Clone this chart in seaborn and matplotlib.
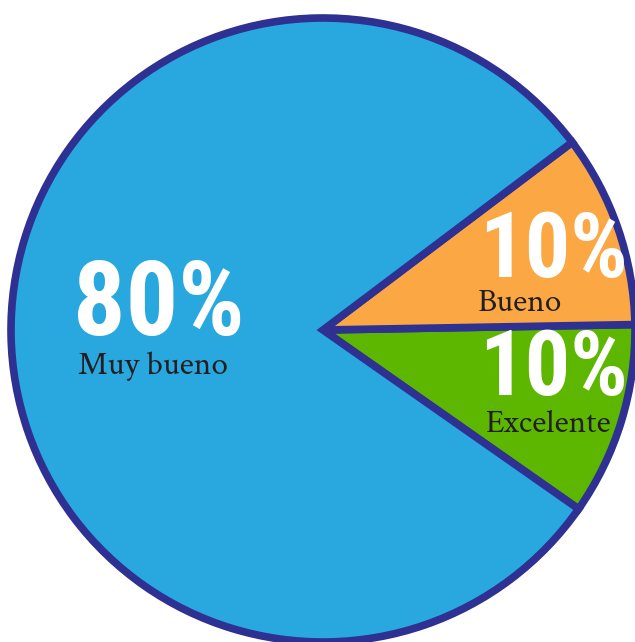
import matplotlib
matplotlib.use("Agg")
import matplotlib.pyplot as plt
import seaborn as sns

# slice data (counter-clockwise from start angle)
labels = ["Excelente", "Bueno", "Muy bueno"]
values = [10, 10, 80]
colors = ["#5DB700", "#FBA744", "#29A8E0"]
pct_text = ["10%", "10%", "80%"]

sns.set_theme(style="white")

W, H = 635, 642
CX, CY, R = 323, 330, 312  # pie center / radius in pixels

fig = plt.figure(figsize=(W / 100, H / 100), dpi=100)
ax = fig.add_axes([0, 0, 1, 1])
ax.pie(values, colors=colors, startangle=-35, counterclock=True, radius=1,
       wedgeprops=dict(edgecolor="#2E3192", linewidth=5.5, joinstyle="miter"))
ax.set_xlim(-CX / R, (W - CX) / R)
ax.set_ylim(-(H - CY) / R, CY / R)
ax.set_aspect("auto")
ax.axis("off")


def px(x, y):
    return (x - CX) / R, (CY - y) / R


# pixel positions (left edge, baseline)
pct_pos = [(479, 395), (479, 277), (73, 335)]
name_pos = [(485, 432), (478, 311), (78, 374)]
pct_size = [65, 65, 75]

for i in range(len(values)):
    x, y = px(*pct_pos[i])
    ax.text(x, y, pct_text[i], color="white", fontsize=pct_size[i], fontweight="bold",
            family="Roboto Condensed", ha="left", va="baseline")
    x, y = px(*name_pos[i])
    ax.text(x, y, labels[i], color="#231F20", fontsize=24, family="Crimson Text",
            ha="left", va="baseline")

fig.savefig("out.png", dpi=100)
